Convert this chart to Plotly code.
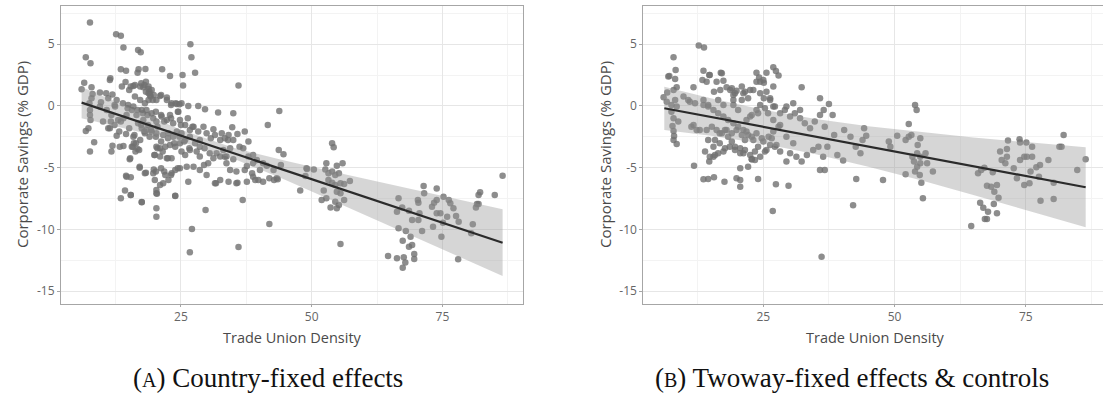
import plotly.graph_objects as go

# ---------------- Panel A: Country-fixed effects ----------------
a_x = [7.6, 6.8, 7.7, 12.6, 13.5, 14.0, 16.8, 17.3, 26.8, 27.0, 27.7, 21.4, 22.9, 25.3, 25.4, 36.0,
       13.5, 14.5, 11.4, 14.4, 16.7, 18.2, 16.9, 6.0, 6.5, 7.9, 8.1, 9.5, 10.7, 11.9, 12.4, 12.7,
       13.7, 15.1, 15.9, 16.2, 17.2, 17.8, 18.3, 18.8, 19.0, 19.4, 19.2, 19.8, 20.3, 21.0, 22.3, 23.2,
       24.2, 24.5, 25.1, 26.4, 28.3, 29.6, 32.1, 35.0, 34.8, 41.6, 43.8, 35.8, 37.2, 36.2, 36.9, 34.4,
       33.1, 31.8, 33.7, 35.0, 33.7, 34.4, 35.6, 37.2, 38.8, 39.8, 40.7, 41.9, 42.8, 37.6, 35.8, 34.1,
       32.5, 31.7, 29.9, 28.6, 29.4, 30.2, 27.4, 26.1, 24.8, 23.9, 23.2, 22.0, 22.6, 21.6, 21.0, 20.0,
       19.7, 19.8, 20.3, 20.3, 23.9, 26.4, 27.1, 26.7, 29.7, 36.0, 36.8, 41.9, 20.3, 20.3, 17.5, 13.5,
       14.3, 15.4, 14.6, 15.4, 13.3, 14.0, 15.6, 16.0, 16.7, 16.3, 17.1, 18.3, 15.2, 14.5, 12.7, 11.9,
       11.4, 7.6, 8.4, 6.8, 7.3, 7.6, 7.7, 7.6, 7.9, 7.5, 9.5, 10.8, 11.7, 13.0, 14.0, 14.6,
       15.6, 16.5, 17.5, 18.4, 19.4, 19.7, 17.8, 16.8, 18.7, 20.3, 21.3, 22.3, 22.9, 23.5, 24.8, 25.8,
       26.7, 27.4, 28.3, 29.3, 29.9, 30.7, 31.5, 32.5, 33.4, 34.1, 35.0, 32.8, 31.2, 28.6, 27.7, 26.7,
       25.8, 24.8, 23.9, 22.9, 22.0, 21.0, 20.3, 20.0, 21.0, 22.3, 23.2, 25.1, 25.8, 26.7, 28.0, 28.6,
       30.5, 31.2, 32.5, 19.0, 18.1, 17.2, 15.9, 17.5, 18.4, 19.4, 20.3, 21.6, 22.6, 23.5, 24.2, 25.1,
       18.8, 18.8, 18.1, 17.2, 15.9, 14.9, 11.1, 10.1, 11.1, 11.7, 28.6, 29.5, 38.8, 40.1, 41.4, 37.9,
       38.8, 39.5,
       11.5, 15.4, 16.2, 17.4, 18.0, 18.8, 18.3, 19.1, 19.6, 21.2, 22.3, 23.1, 24.0, 24.7, 9.7, 12.3,
       13.9, 14.8, 16.7, 17.7, 18.6, 20.2, 21.2, 21.8, 23.1, 24.4, 25.0, 26.3, 27.2, 13.5, 12.3, 11.6,
       13.2, 15.1, 16.1, 17.4, 18.0, 19.3, 20.5, 20.2, 21.2, 22.5, 23.7, 24.7, 25.6, 26.6, 20.5, 21.5,
       22.5, 19.9, 21.2, 20.2, 21.8, 23.1, 24.4, 15.8, 17.0, 16.4, 15.3, 17.1, 18.1, 14.5, 15.4, 17.5,
       20.4, 23.9, 34.0, 37.9, 40.7, 43.3, 39.2, 37.6, 38.6, 35.6, 31.5, 33.4, 49.0,
       43.7, 44.6, 44.1, 42.7, 43.5, 47.8, 48.8, 49.1, 50.4, 53.9, 54.2, 52.8, 54.8, 55.9, 52.6, 53.2,
       53.9, 54.5, 55.2, 53.2, 53.9, 54.5, 55.5, 56.2, 57.3, 52.3, 51.9, 52.8, 53.6, 54.5, 55.2, 54.8,
       56.2, 55.5, 54.8, 55.5, 66.6, 66.3, 67.3, 68.6, 66.6, 68.0, 67.4, 68.9, 68.6, 69.2, 64.6, 66.3,
       67.6, 67.9, 67.4, 69.6, 69.6, 69.2, 70.4, 71.1, 71.4, 71.5, 70.3, 70.4, 70.6, 73.2, 73.9, 73.0,
       73.4, 73.9, 75.2, 76.2, 77.1, 74.6, 75.9, 75.1, 77.6, 78.1, 74.8, 80.8, 80.5, 78.0, 81.4, 81.9,
       81.6, 81.9, 82.2, 85.0, 86.5, 76.5, 73.9]
a_y = [6.76, 3.95, 3.46, 5.81, 5.68, 4.73, 4.54, 4.35, 5.0, 3.95, 2.70, 2.97, 2.43, 2.51, 1.65, 1.65,
       2.97, 2.86, 2.1, 1.95, 2.70, 3.0, 2.97, 1.35, 1.89, 1.51, 0.97, 1.08, 1.03, 0.92, -0.05, 0.49,
       1.57, 1.3, 1.62, 0.76, 1.57, 1.51, 1.97, 1.57, 1.16, 1.3, 0.76, 0.89, 0.49, 0.81, 0.49, 0.22,
       0.16, -0.46, 0.22, 0.0, 0.0, -0.27, -0.54, -0.59, -1.73, -1.54, -0.41, -2.27, -2.08, -3.3, -3.43, -3.43,
       -3.57, -3.84, -4.1, -4.32, -4.65, -5.19, -5.32, -5.19, -5.73, -6.0, -6.14, -5.86, -6.0, -6.14, -6.22, -6.14,
       -6.0, -6.27, -5.59, -5.19, -4.78, -4.65, -4.92, -4.92, -5.05, -5.19, -5.46, -5.59, -6.0, -6.27, -6.41, -6.0,
       -5.46, -5.14, -7.08, -6.81, -7.27, -6.14, -9.97, -11.86, -8.43, -11.43, -7.62, -9.57, -8.3, -8.97, -7.78, -7.49,
       -6.86, -7.21, -5.73, -5.78, -3.3, -3.24, -3.3, -3.03, -3.49, -3.7, -4.92, -5.41, -4.32, -2.27, -2.41, -3.22,
       -1.81, -3.7, -2.95, -2.03, -1.81, -0.73, -1.14, -0.32, 0.62, 0.22, -0.05, -0.32, -0.73, -1.14, -1.0, -0.73,
       -0.32, -0.73, -0.32, -0.32, -0.59, -1.0, -1.14, -1.41, -1.54, -1.27, -0.86, -1.14, -0.73, -1.41, -1.14, -1.54,
       -1.95, -1.68, -2.08, -1.68, -2.22, -2.62, -2.35, -2.76, -2.62, -2.35, -2.76, -2.22, -1.89, -2.76, -3.03, -2.49,
       -2.76, -3.03, -3.3, -3.16, -3.3, -3.43, -3.3, -3.97, -4.1, -4.24, -4.24, -3.7, -3.97, -3.57, -3.7, -4.1,
       -3.84, -4.24, -4.1, -2.49, -2.22, -2.76, -2.49, -1.81, -1.95, -2.08, -2.22, -2.35, -2.22, -2.49, -2.08, -2.22,
       1.03, 0.49, 0.22, 0.49, -0.05, 0.08, 0.62, -1.27, -1.81, -3.7, -3.3, -3.43, -4.65, -5.19, -4.84, -4.1,
       -3.97, -4.38,
       2.24, 1.57, 1.70, 1.84, 1.70, 1.38, 1.16, 0.89, 0.49, 0.89, 0.68, 0.08, 0.22, 0.14, 0.30, 0.08,
       0.22, -0.19, -0.32, -0.59, -0.73, -0.46, -0.73, -1.27, -1.0, -0.46, -1.54, -1.0, -1.68, -1.27, -1.54, -1.27,
       -2.08, -1.81, -2.35, -1.54, -2.08, -1.95, -1.68, -2.49, -2.89, -2.62, -3.03, -2.49, -2.89, -3.43, -3.43, -3.70,
       -4.24, -3.97, -5.05, -5.32, -5.32, -5.59, -5.05, -3.30, -3.57, -3.03, -4.24, -5.0, -5.46, -5.65, -7.22, -7.81,
       -7.11, -7.30, -2.76, -2.89, -4.65, -5.86, -6.0, -4.86, -5.46, -6.27, -6.27, -4.11, -5.05,
       -3.57, -3.92, -4.78, -5.19, -5.95, -6.86, -5.68, -5.11, -5.14, -3.03, -3.35, -4.65, -4.84, -4.65, -5.14, -5.46,
       -5.32, -5.59, -5.46, -6.0, -6.22, -6.41, -6.27, -6.32, -6.08, -6.86, -7.62, -7.49, -8.22, -7.76, -8.03, -8.3,
       -7.62, -7.08, -6.95, -11.19, -7.49, -8.57, -8.22, -8.49, -9.92, -10.14, -10.92, -10.59, -11.41, -11.27, -12.16, -12.35,
       -12.27, -12.68, -13.11, -12.0, -12.41, -9.24, -9.24, -10.14, -6.49, -7.08, -7.62, -7.84, -8.7, -9.78, -6.68, -8.16,
       -7.84, -7.62, -7.35, -7.62, -8.3, -8.7, -8.97, -9.46, -8.92, -9.38, -10.59, -9.59, -10.32, -12.43, -8.22, -7.95,
       -7.95, -7.22, -7.0, -7.22, -5.65, -7.89, -8.7]

a_fit_x = [6.0, 86.5]
a_fit_y = [0.27, -11.08]
a_band_x = [6.0, 15.0, 25.0, 35.0, 45.0, 55.0, 65.0, 75.0, 86.5]
a_band_lo = [-1.00, -1.87, -2.90, -4.26, -6.01, -7.86, -9.74, -11.62, -13.78]
a_band_hi = [1.54, -0.13, -1.92, -3.38, -4.45, -5.42, -6.37, -7.30, -8.38]

# ---------------- Panel B: Twoway-fixed effects & controls ----------------
b_x = [12.7, 13.7, 7.9, 8.3, 8.2, 6.9, 6.0, 6.7, 7.9, 8.5, 9.8, 10.7, 11.7, 12.0, 13.6, 14.7,
       13.4, 14.2, 16.9, 16.1, 17.4, 15.6, 16.8, 18.0, 18.7, 19.3, 19.9, 20.9, 21.5, 22.1, 23.7, 24.2,
       25.0, 23.7, 25.6, 26.9, 27.4, 27.9, 32.3, 35.8, 6.6, 7.5, 8.2, 8.5, 7.5, 7.9, 8.8, 7.7,
       7.9, 8.0, 8.5, 7.9, 11.3, 12.3, 11.8, 13.6, 14.5, 15.6, 17.6, 14.7, 15.5, 16.4, 17.4, 15.8,
       16.7, 17.7, 18.3, 19.0, 19.6, 20.6, 21.2, 19.9, 20.6, 20.6, 24.0, 22.8, 23.4, 27.4, 29.8, 26.8,
       36.1, 21.8, 22.8, 23.7, 24.4, 25.3, 26.3, 27.2, 28.2, 29.1, 30.1, 31.0, 32.0, 32.9, 33.9, 34.8,
       35.8, 36.7, 28.2, 26.9, 26.0, 25.0, 24.0, 23.1, 22.1, 21.2, 20.2, 19.3, 18.3, 17.4, 16.4, 15.5,
       14.5, 13.6, 29.4, 30.7, 30.1, 29.4, 31.3, 32.3, 33.3, 34.5, 35.5, 36.4, 36.7, 35.8, 28.2, 27.2,
       25.6, 24.4, 22.1, 21.5, 19.3, 20.9, 22.5, 25.6, 26.9, 29.4, 30.7, 32.0,
       7.1, 14.8, 17.1, 19.0, 19.6, 21.2, 23.1, 24.4, 25.1, 24.4, 25.1, 26.3, 26.9, 11.0, 13.6, 14.5,
       16.4, 17.4, 19.3, 20.2, 22.5, 24.0, 25.9, 26.9, 27.9, 11.7, 12.9, 14.2, 15.2, 16.1, 17.1, 18.0,
       19.0, 19.9, 20.9, 21.8, 22.8, 23.7, 24.7, 26.6, 27.5, 14.5, 15.5, 16.7, 17.7, 18.6, 19.6, 20.6,
       21.5, 22.5, 23.4, 25.3, 26.3, 13.9, 14.8, 15.8, 22.8, 20.6,
       37.5, 38.2, 36.5, 37.2, 38.5, 39.1, 40.2, 40.4, 41.6, 42.6, 43.5, 44.2, 44.6, 43.9, 42.7, 42.1,
       47.8, 48.9, 49.2, 50.5, 52.7, 52.1, 52.7, 53.2, 53.9, 54.2, 52.1, 53.4, 54.3, 54.9, 53.7, 54.3,
       54.9, 55.9, 56.2, 54.9, 54.4, 53.9, 54.8, 55.1, 57.3, 55.4, 65.9, 66.5, 67.1, 68.7, 67.6, 68.4,
       69.0, 69.5, 69.8, 68.9, 66.3, 66.9, 67.8, 67.2, 67.6, 69.5, 64.6, 70.1, 70.4, 71.1, 71.4, 71.6,
       71.4, 72.7, 73.8, 73.9, 74.7, 75.1, 76.2, 75.2, 73.9, 73.3, 74.7, 75.7, 75.9, 76.2, 77.0, 77.7,
       77.5, 79.3, 77.8, 80.3, 80.3, 81.4, 81.8, 82.2, 84.8, 86.4]
b_y = [4.89, 4.73, 3.95, 2.92, 2.19, 2.38, 0.70, 1.08, 1.3, 1.51, 0.76, 0.49, 1.51, 0.22, 2.86, 2.51,
       2.11, 1.97, 2.7, 1.97, 2.05, 1.16, 1.3, 1.51, 1.3, 0.89, 1.24, 1.57, 1.16, 0.62, 1.97, 2.3,
       2.11, 2.70, 2.70, 3.14, 2.84, 2.46, 1.51, 0.62, 0.35, 0.08, 0.49, -0.05, -0.46, -1.0, -1.27, -1.62,
       -2.03, -2.43, -3.08, -2.76, -1.68, -1.95, -4.84, -5.95, -5.92, -5.78, -6.14, -4.51, -4.11, -3.84, -3.7, -2.76,
       -2.22, -1.95, -2.49, -2.89, -3.3, -3.43, -3.84, -5.86, -6.0, -6.54, -5.92, -4.32, -4.38, -6.35, -6.46, -8.51,
       -12.22, -1.14, -0.73, -0.32, 0.08, -0.19, 0.49, -0.05, -0.59, -0.32, -0.86, -0.59, -1.0, -1.41, -1.81, -1.27,
       -0.73, -1.68, -1.54, -2.08, -2.49, -2.89, -3.3, -2.76, -2.35, -1.95, -1.68, -1.41, -1.14, -0.86, -0.59, -0.32,
       -0.05, 0.08, -2.49, -3.03, -3.84, -4.51, -4.11, -4.51, -3.97, -3.57, -3.3, -4.11, -5.19, -5.19, -3.7, -3.3,
       -3.57, -4.11, -4.92, -2.76, 0.49, 0.49, 1.3, 1.16, 1.57, -0.05, 0.22, -0.32,
       2.43, 2.51, 2.65, 1.43, 1.03, 1.03, 1.30, 1.97, 1.89, 1.03, 0.62, 0.62, -0.05, 0.35, 0.49, 0.08,
       0.49, 0.08, 0.08, -0.32, -0.86, -0.59, -0.59, -1.14, -1.68, -1.54, -1.95, -1.95, -1.68, -1.95, -2.22, -1.95,
       -2.22, -1.95, -2.35, -2.08, -2.49, -2.22, -2.62, -2.62, -3.16, -2.76, -3.30, -3.03, -3.43, -3.30, -3.57, -3.84,
       -3.57, -3.97, -3.70, -3.70, -3.16, -3.70, -4.11, -3.97, -4.32, -5.05,
       0.16, -0.73, -0.32, -3.3, -2.35, -3.97, -4.43, -1.95, -2.49, -3.3, -3.84, -1.81, -2.41, -2.76, -5.92, -8.05,
       -6.0, -2.89, -3.3, -2.41, -1.46, -2.76, -2.49, -2.35, 0.08, -0.32, -5.54, -4.11, -3.84, -4.11, -4.51, -4.92,
       -4.65, -3.84, -4.65, -2.62, -3.16, -5.32, -5.59, -6.22, -5.32, -7.49, -5.46, -5.19, -5.0, -5.38, -6.46, -6.54,
       -6.95, -6.41, -7.43, -7.95, -7.84, -8.24, -8.57, -9.16, -9.16, -8.7, -9.73, -3.7, -4.38, -4.65, -4.11, -2.81,
       -3.49, -5.05, -2.70, -2.97, -4.11, -2.97, -3.3, -4.11, -4.38, -5.86, -6.41, -6.27, -5.32, -4.11, -4.97, -4.78,
       -5.73, -4.38, -7.68, -7.54, -6.22, -3.3, -3.3, -2.35, -5.19, -4.32]

b_fit_x = [6.14, 86.4]
b_fit_y = [-0.19, -6.59]
b_band_x = [6.14, 15.0, 25.0, 35.0, 45.0, 55.0, 65.0, 75.0, 86.4]
b_band_lo = [-1.94, -2.41, -3.07, -3.92, -4.92, -6.03, -7.21, -8.43, -9.84]
b_band_hi = [1.56, 0.62, -0.31, -1.06, -1.65, -2.13, -2.55, -2.93, -3.34]

y_ticks = [-15, -10, -5, 0, 5]
x_ticks = [25, 50, 75]
x_title = "Trade Union Density"
y_title = "Corporate Savings (% GDP)"
captions = ["(<span style='font-size:20px'>A</span>) Country-fixed effects",
            "(<span style='font-size:20px'>B</span>) Twoway-fixed effects &amp; controls"]

W, H = 1103, 398
PT_COLOR = "rgba(112,112,112,0.8)"
BAND = "rgba(153,153,153,0.40)"
LINE = "#2b2b2b"
BORDER = "#a6a6a6"
GRID = "#e6e6e6"
MINOR = "#f3f3f3"

fig = go.Figure()


def add_panel(xs, ys, fx, fy, bx, blo, bhi, xa, ya):
    fig.add_trace(go.Scatter(x=xs, y=ys, mode="markers", xaxis=xa, yaxis=ya,
                             marker=dict(size=6.5, color=PT_COLOR, line=dict(width=0)),
                             showlegend=False, hoverinfo="skip"))
    fig.add_trace(go.Scatter(x=bx, y=bhi, mode="lines", xaxis=xa, yaxis=ya,
                             line=dict(width=0), showlegend=False, hoverinfo="skip"))
    fig.add_trace(go.Scatter(x=bx, y=blo, mode="lines", xaxis=xa, yaxis=ya, fill="tonexty",
                             fillcolor=BAND, line=dict(width=0), showlegend=False, hoverinfo="skip"))
    fig.add_trace(go.Scatter(x=fx, y=fy, mode="lines", xaxis=xa, yaxis=ya,
                             line=dict(color=LINE, width=2.2), showlegend=False, hoverinfo="skip"))


add_panel(a_x, a_y, a_fit_x, a_fit_y, a_band_x, a_band_lo, a_band_hi, "x", "y")
add_panel(b_x, b_y, b_fit_x, b_fit_y, b_band_x, b_band_lo, b_band_hi, "x2", "y2")

tick_font = dict(family="Open Sans", size=12, color="#666666")


def xaxis(domain, rng, anchor, mirror=True):
    return dict(domain=domain, range=rng, anchor=anchor, tickmode="array", tickvals=x_ticks,
                showgrid=True, gridcolor=GRID, gridwidth=1, zeroline=False,
                showline=True, linecolor=BORDER, linewidth=1, mirror=mirror,
                ticks="outside", ticklen=2, tickcolor=BORDER, tickfont=tick_font,
                minor=dict(showgrid=True, gridcolor=MINOR, tickmode="array",
                           tickvals=[12.5, 37.5, 62.5, 87.5], ticks=""))


def yaxis(domain, anchor, mirror=True):
    return dict(domain=domain, range=[-16.05, 8.1], anchor=anchor, tickmode="array",
                tickvals=y_ticks, ticktext=[str(v) for v in y_ticks],
                showgrid=True, gridcolor=GRID, gridwidth=1, zeroline=False,
                showline=True, linecolor=BORDER, linewidth=1, mirror=mirror,
                ticks="outside", ticklen=3, tickcolor=BORDER, tickfont=tick_font,
                minor=dict(showgrid=True, gridcolor=MINOR, tickmode="array",
                           tickvals=[-12.5, -7.5, -2.5, 2.5, 7.5], ticks=""))


ydom = [1 - 304 / H, 1 - 6 / H]
fig.update_layout(
    width=W, height=H, margin=dict(l=0, r=0, t=0, b=0),
    paper_bgcolor="white", plot_bgcolor="white",
    xaxis=xaxis([61 / W, 523 / W], [2.06, 90.4], "y"),
    yaxis=yaxis(ydom, "x"),
    xaxis2=xaxis([643.3 / W, 1.0], [2.14, 89.7], "y2"),
    yaxis2=yaxis(ydom, "x2", mirror=False),
)

ann = []
for cx in [292, 875]:
    ann.append(dict(x=cx / W, y=1 - 337 / H, xref="paper", yref="paper", text=x_title,
                    showarrow=False, font=dict(family="Open Sans", size=14.5, color="#4a4a4a"),
                    xanchor="center", yanchor="middle"))
for cx in [22, 605]:
    ann.append(dict(x=cx / W, y=1 - 155 / H, xref="paper", yref="paper", text=y_title,
                    textangle=-90, showarrow=False,
                    font=dict(family="Open Sans", size=15, color="#4a4a4a"),
                    xanchor="center", yanchor="middle"))
for cx, cap in zip([268, 852], captions):
    ann.append(dict(x=cx / W, y=1 - 378 / H, xref="paper", yref="paper", text=cap,
                    showarrow=False, font=dict(family="Liberation Serif", size=27, color="#111111"),
                    xanchor="center", yanchor="middle"))
fig.update_layout(annotations=ann)

fig.write_html("out.html")
